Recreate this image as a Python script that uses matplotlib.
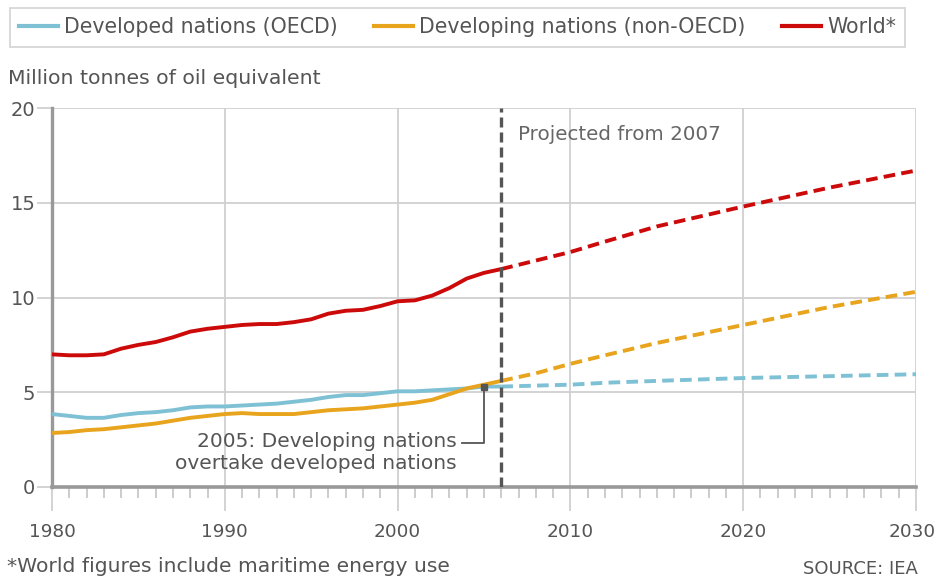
import matplotlib
matplotlib.use("Agg")
import matplotlib.pyplot as plt
from matplotlib.lines import Line2D
import matplotlib.transforms as mtransforms

# ---- data ----
years_hist = list(range(1980, 2007))
world_hist = [7.0, 6.95, 6.95, 7.0, 7.3, 7.5, 7.65, 7.9, 8.2, 8.35, 8.45, 8.55, 8.6, 8.6, 8.7,
              8.85, 9.15, 9.3, 9.35, 9.55, 9.8, 9.85, 10.1, 10.5, 11.0, 11.3, 11.5]
oecd_hist = [3.85, 3.75, 3.65, 3.65, 3.8, 3.9, 3.95, 4.05, 4.2, 4.25, 4.25, 4.3, 4.35, 4.4, 4.5,
             4.6, 4.75, 4.85, 4.85, 4.95, 5.05, 5.05, 5.1, 5.15, 5.2, 5.3, 5.3]
nonoecd_hist = [2.85, 2.9, 3.0, 3.05, 3.15, 3.25, 3.35, 3.5, 3.65, 3.75, 3.85, 3.9, 3.85, 3.85, 3.85,
                3.95, 4.05, 4.1, 4.15, 4.25, 4.35, 4.45, 4.6, 4.9, 5.2, 5.4, 5.6]

years_proj = [2006, 2008, 2010, 2012, 2015, 2020, 2025, 2030]
world_proj = [11.5, 11.95, 12.4, 12.95, 13.75, 14.8, 15.8, 16.7]
oecd_proj = [5.3, 5.35, 5.4, 5.5, 5.6, 5.75, 5.85, 5.95]
nonoecd_proj = [5.6, 6.0, 6.5, 6.95, 7.6, 8.55, 9.5, 10.3]

labels = ["Developed nations (OECD)", "Developing nations (non-OECD)", "World*"]
colors = ["#7fc1d4", "#e8a41c", "#cc0a0a"]
proj_start = 2006
cross_year, cross_val = 2005, 5.3

font = "DejaVu Sans"
tc = "#555555"
plt.rcParams["font.family"] = font

fig = plt.figure(figsize=(9.36, 5.8), dpi=100)
ax = fig.add_axes([52/936, 1-487/580, (916-52)/936, (487-108)/580])

lw = 2.8
for hist, proj, c in [(oecd_hist, oecd_proj, colors[0]),
                      (nonoecd_hist, nonoecd_proj, colors[1]),
                      (world_hist, world_proj, colors[2])]:
    ax.plot(years_hist, hist, color=c, lw=lw, solid_capstyle="butt", zorder=4)
    ax.plot(years_proj, proj, color=c, lw=lw, ls=(0, (3, 1.6)), zorder=4)

ax.set_xlim(1980, 2030)
ax.set_ylim(0, 20)
ax.set_xticks(range(1980, 2031, 10))
ax.set_xticks(range(1980, 2031, 1), minor=True)
ax.set_yticks([0, 5, 10, 15, 20])
ax.grid(True, which="major", color="#d0d0d0", lw=1.3, zorder=0)
for s in ["top", "right"]:
    ax.spines[s].set_visible(False)
ax.spines["left"].set_color("#999999")
ax.spines["left"].set_linewidth(2.4)
ax.spines["bottom"].set_color("#999999")
ax.spines["bottom"].set_linewidth(2.6)
ax.tick_params(axis="x", which="major", length=17, width=1.2, color="#cccccc",
               labelsize=13.3, labelcolor=tc, pad=9)
ax.tick_params(axis="x", which="minor", length=8, width=1.2, color="#c4c4c4")
ax.tick_params(axis="y", which="major", length=11, width=1.2, color="#cccccc",
               labelsize=14, labelcolor=tc, pad=1)
# nudge last x label so it stays inside the canvas
last = ax.get_xticklabels()[-1]
last.set_transform(last.get_transform() + mtransforms.ScaledTranslation(-4/100, 0, fig.dpi_scale_trans))

# projection line
ax.axvline(proj_start, color="#555555", lw=2.4, ls=(0, (3, 1.5)), zorder=5)
ax.text(2006.95, 18.6, "Projected from 2007", color="#666666", fontsize=14.3,
        ha="left", va="center")

# annotation
ax.plot([cross_year], [cross_val], marker="s", ms=4.5, color="#555555", zorder=6)
ax.plot([cross_year, cross_year, 2003.7], [cross_val, 2.3, 2.3], color="#555555", lw=1.3, zorder=6)
ax.text(2003.4, 1.8, "2005: Developing nations\novertake developed nations", color="#555555",
        fontsize=14.5, ha="right", va="center", linespacing=1.2)

# legend
handles = [Line2D([], [], color=c, lw=3) for c in colors]
leg = fig.legend(handles, labels, loc="upper left", bbox_to_anchor=(10/936, 1-8/580),
                 ncol=3, frameon=True, fancybox=False, prop={"size": 14.8},
                 handlelength=1.9, handletextpad=0.3, columnspacing=1.75, borderpad=0.45,
                 borderaxespad=0)
leg.get_frame().set_edgecolor("#cccccc")
leg.get_frame().set_linewidth(1.3)
for t in leg.get_texts():
    t.set_color(tc)

fig.text(8/936, 1-79/580, "Million tonnes of oil equivalent", fontsize=14.7,
         color=tc, va="center", ha="left")
fig.text(7/936, 1-566/580, "*World figures include maritime energy use",
         fontsize=14.6, color=tc, va="center", ha="left")
fig.text(918/936, 1-569/580, "SOURCE: IEA", fontsize=13, color=tc,
         va="center", ha="right")

fig.savefig("out.png", dpi=100)
